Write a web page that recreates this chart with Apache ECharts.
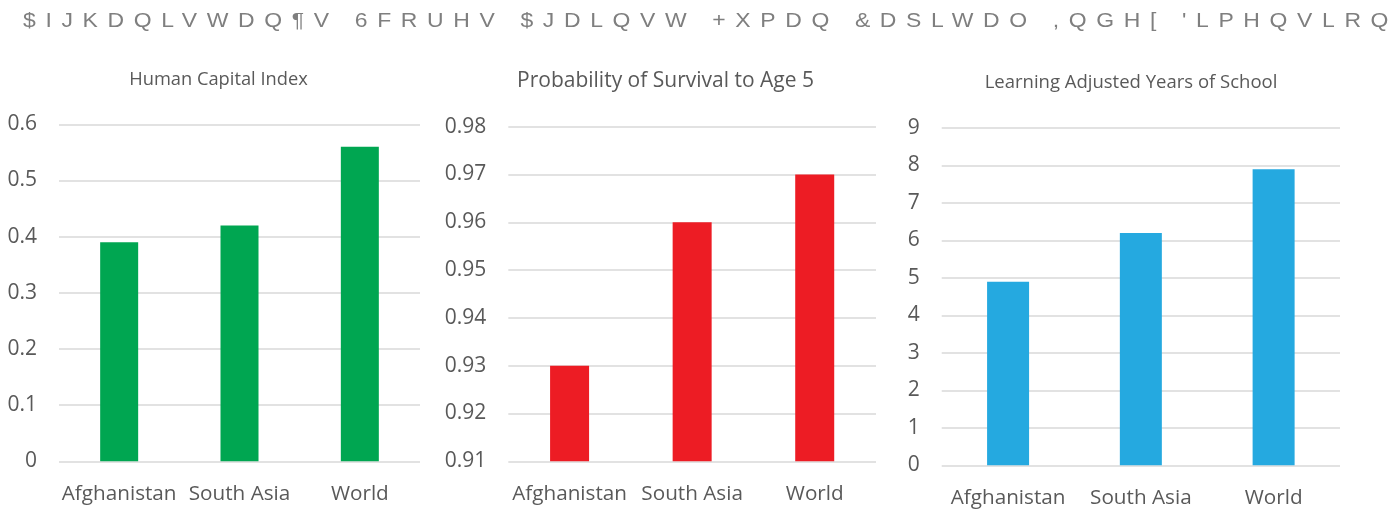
<!DOCTYPE html>
<html>
<head>
<meta charset="utf-8">
<script src="https://cdn.jsdelivr.net/npm/echarts@6/dist/echarts.min.js"></script>
<style>
html,body{margin:0;padding:0;background:#fff;}
#chart{width:1392px;height:509px;}
</style>
</head>
<body>
<div id="chart"></div>
<script>
// ---- data ----
const mainTitle = "$IJKDQLVWDQ¶V 6FRUHV $JDLQVW +XPDQ &DSLWDO ,QGH[ 'LPHQVLRQ";
const panelTitles = ['Human Capital Index', 'Probability of Survival to Age 5', 'Learning Adjusted Years of School'];
const categories = ['Afghanistan', 'South Asia', 'World'];
const hciValues = [0.39, 0.42, 0.56];
const survivalValues = [0.93, 0.96, 0.97];
const laysValues = [4.9, 6.2, 7.9];
const hciAxis = [0, 0.6, 0.1];        // min, max, step
const survivalAxis = [0.91, 0.98, 0.01];
const laysAxis = [0, 9, 1];

// letter-spaced rendering for the wide banner title only (canvas letterSpacing)
(function () {
  const orig = CanvasRenderingContext2D.prototype.fillText;
  CanvasRenderingContext2D.prototype.fillText = function (t, x, y, m) {
    const wide = !!(this.font && this.font.indexOf('Liberation Sans') >= 0);
    this.letterSpacing = wide ? '8.6px' : '0px';
    const r = m === undefined ? orig.call(this, t, x, y) : orig.call(this, t, x, y, m);
    this.letterSpacing = '0px';
    return r;
  };
})();

const FONT = '"Open Sans", "Noto Sans", sans-serif';
const TXT = '#595959';
const GRIDC = '#d9d9d9';

const panels = [
  { values: hciValues, axis: hciAxis, color: '#00a651', grid: { left: 59, top: 124.3, width: 361, height: 337 }, barWidth: 38, fmt: null, title: { x: 218.5, y: 80, size: 18.3 } },
  { values: survivalValues, axis: survivalAxis, color: '#ed1c24', grid: { left: 508.3, top: 126.7, width: 367.7, height: 334.6 }, barWidth: 39, fmt: 2, title: { x: 665.5, y: 81, size: 21 } },
  { values: laysValues, axis: laysAxis, color: '#25a9e0', grid: { left: 941.7, top: 128, width: 398.3, height: 337.3 }, barWidth: 42, fmt: null, title: { x: 1131, y: 83, size: 18.5 } }
];

const graphics = [{
  type: 'text', x: 23, y: 21.5, scaleX: 1.12, scaleY: 1, silent: true,
  style: { text: mainTitle, align: 'left', verticalAlign: 'middle', fontFamily: '"Liberation Sans", Arial, sans-serif', fontSize: 20.5, fill: '#7f7f7f' }
}].concat(panels.map((p, i) => ({
  type: 'text', x: p.title.x, y: p.title.y, silent: true,
  style: { text: panelTitles[i], align: 'center', verticalAlign: 'middle', fontFamily: FONT, fontSize: p.title.size, fill: TXT }
})));

const option = {
  animation: false,
  backgroundColor: '#ffffff',
  graphic: graphics,
  grid: panels.map(p => Object.assign({ containLabel: false }, p.grid)),
  xAxis: panels.map((p, i) => ({
    type: 'category', gridIndex: i, data: categories,
    axisLine: { show: false }, axisTick: { show: false },
    axisLabel: { fontFamily: FONT, fontSize: 20.7, color: TXT, margin: 22, interval: 0 }
  })),
  yAxis: panels.map((p, i) => ({
    type: 'value', gridIndex: i, min: p.axis[0], max: p.axis[1], interval: p.axis[2],
    axisLine: { show: false }, axisTick: { show: false },
    splitLine: { lineStyle: { color: GRIDC, width: 1.6 } },
    axisLabel: {
      fontFamily: FONT, fontSize: 21, color: TXT, margin: 22,
      formatter: p.fmt ? (v => v.toFixed(p.fmt)) : (v => String(Math.round(v * 1000) / 1000))
    }
  })),
  series: panels.map((p, i) => ({
    type: 'bar', xAxisIndex: i, yAxisIndex: i, data: p.values, barWidth: p.barWidth,
    itemStyle: { color: p.color }
  }))
};

const chart = echarts.init(document.getElementById('chart'), null, { renderer: 'canvas' });
chart.setOption(option);
</script>
</body>
</html>
